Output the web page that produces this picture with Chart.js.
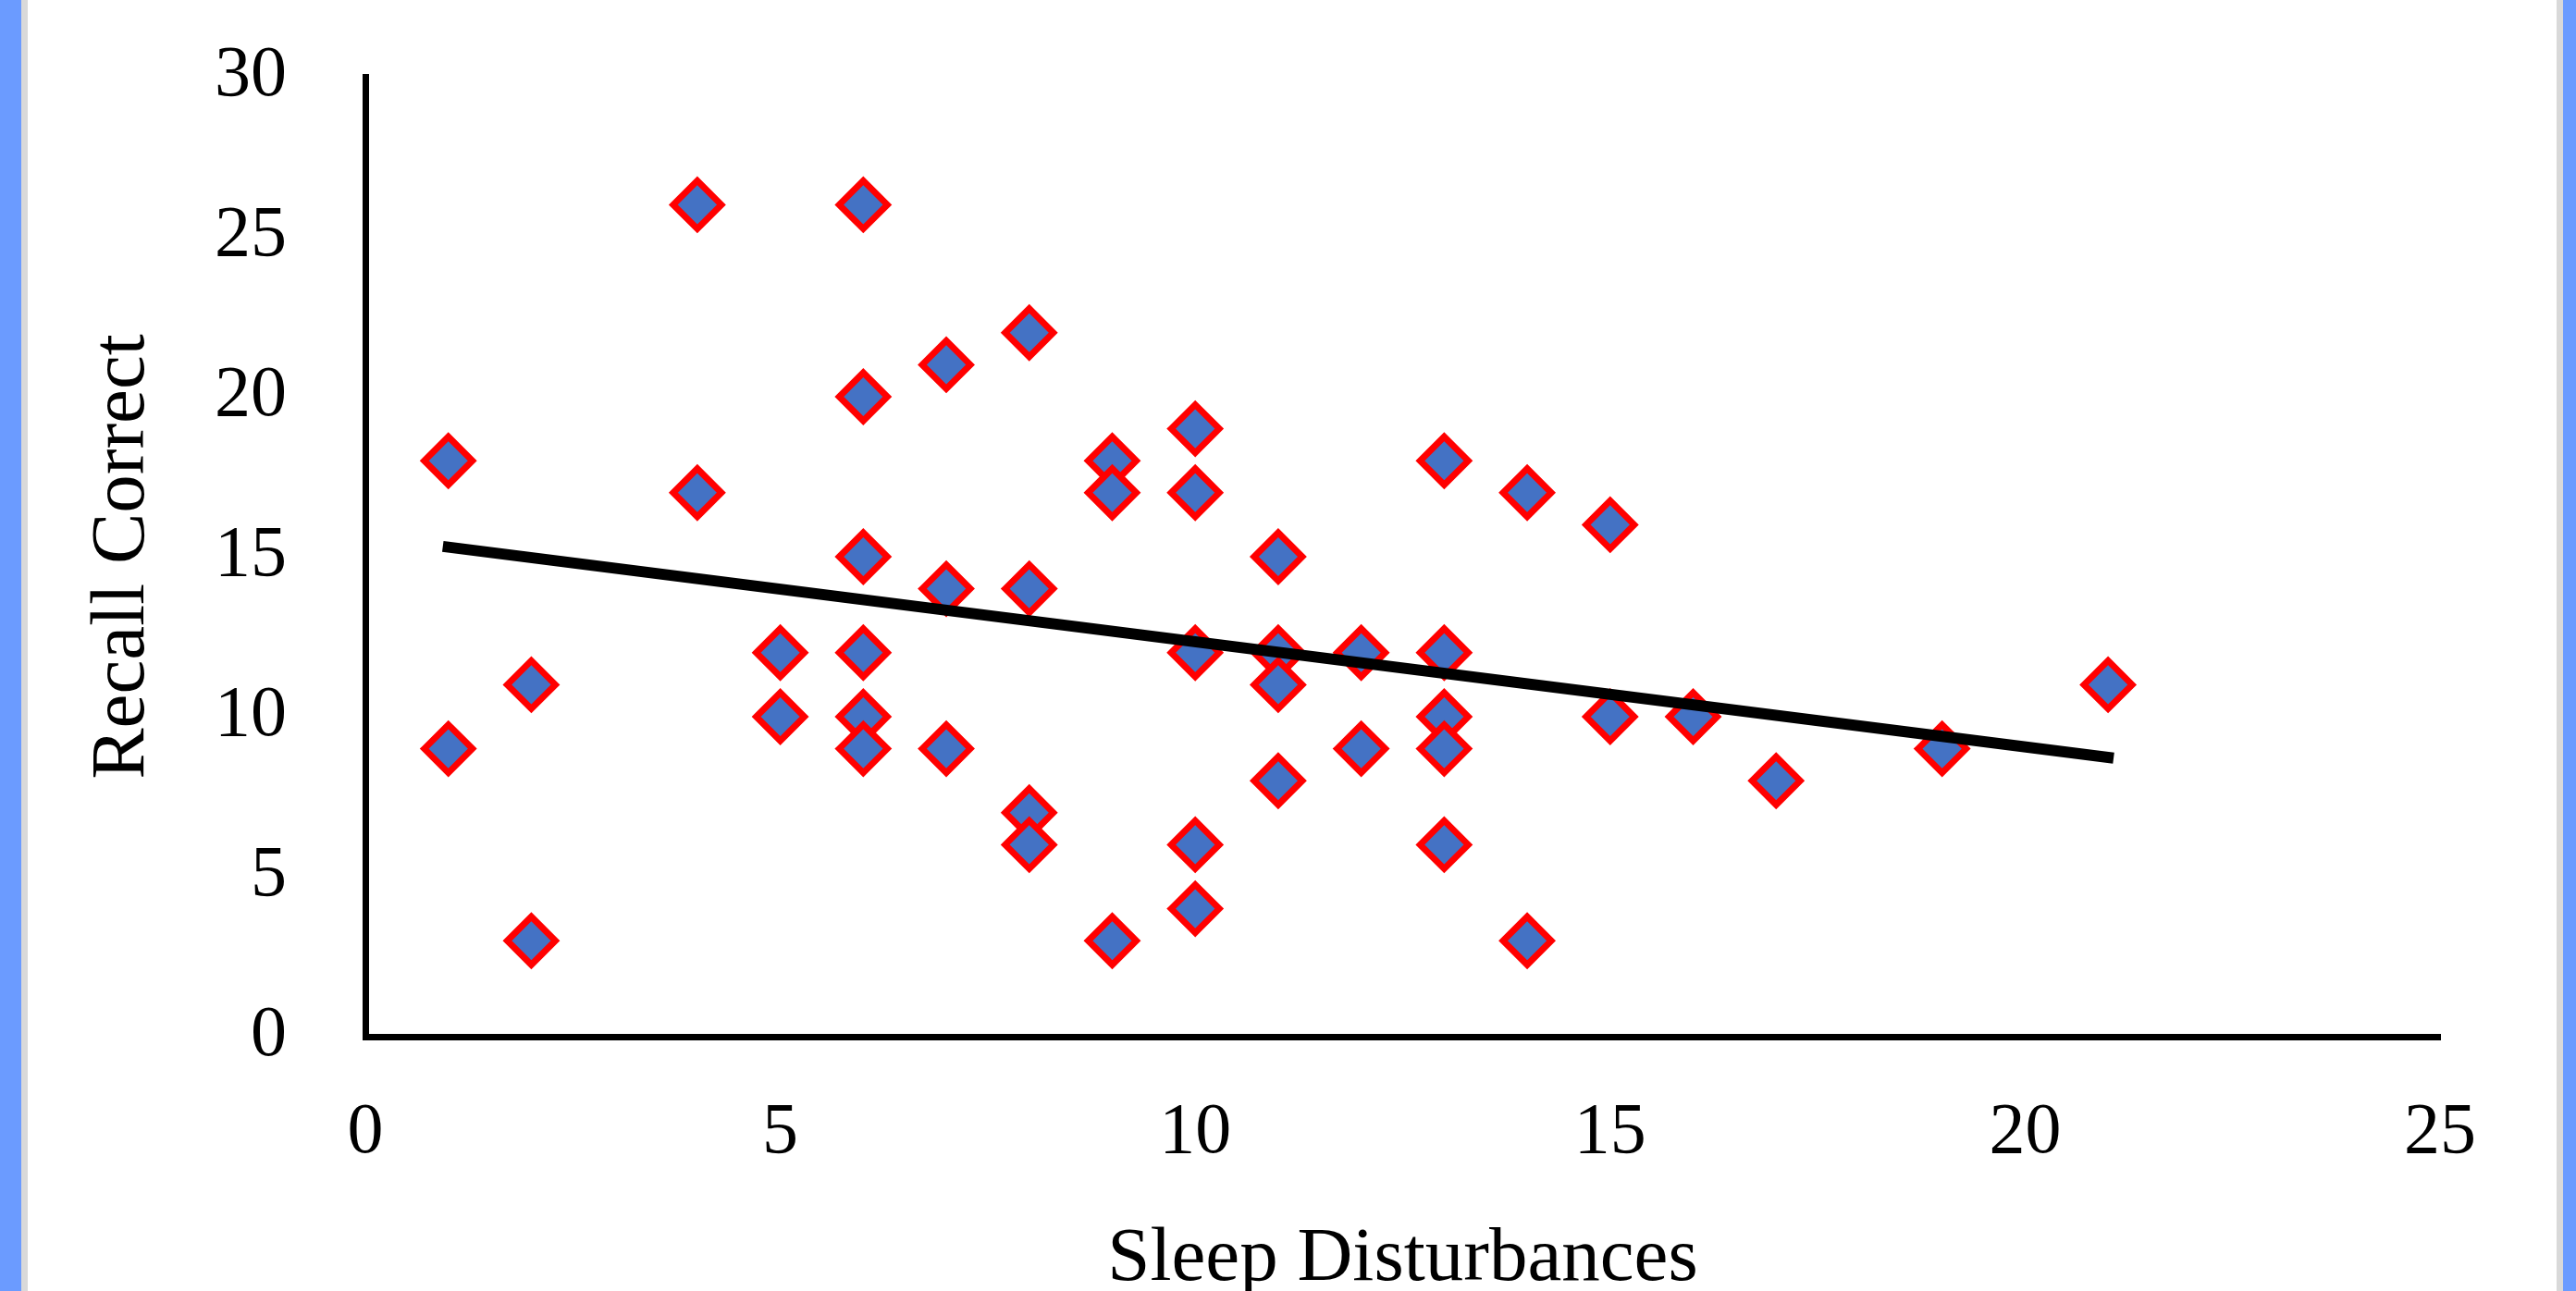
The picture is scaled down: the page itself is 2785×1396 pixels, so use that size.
<!DOCTYPE html>
<html>
<head>
<meta charset="utf-8">
<script src="https://cdn.jsdelivr.net/npm/chart.js@4.4.0/dist/chart.umd.min.js"></script>
<style>
  html, body { margin: 0; padding: 0; background: #fff; width: 2785px; height: 1396px; overflow: hidden; }
  .strip-l { position: absolute; left: 0; top: 0; width: 23px; height: 1396px; background: #6b9bff; }
  .edge-l { position: absolute; left: 23px; top: 0; width: 7px; height: 1396px; background: #d9d9d9; }
  .edge-r { position: absolute; left: 2764px; top: 0; width: 7px; height: 1396px; background: #d9d9d9; }
  .strip-r { position: absolute; left: 2771px; top: 0; width: 14px; height: 1396px; background: #6b9bff; }
  #wrap { position: absolute; left: 30px; top: 0; width: 2734px; height: 1396px; }
</style>
</head>
<body>
<div class="strip-l"></div><div class="edge-l"></div>
<div class="edge-r"></div><div class="strip-r"></div>
<div id="wrap"><canvas id="chart"></canvas></div>
<script>
// sleep disturbances (x) vs recall correct (y)
const sleepX = [1, 1, 2, 2, 4, 4, 5, 5, 6, 6, 6, 6, 6, 6, 7, 7, 7, 8, 8, 8, 8, 9, 9, 9,
                10, 10, 10, 10, 10, 11, 11, 11, 11, 12, 12, 13, 13, 13, 13, 13, 14, 14, 15, 15, 16, 17, 19, 21];
const recallY = [18, 9, 11, 3, 26, 17, 12, 10, 26, 20, 15, 12, 10, 9, 21, 14, 9, 22, 14, 7, 6, 18, 17, 3,
                 19, 17, 12, 6, 4, 15, 12, 11, 8, 12, 9, 18, 12, 10, 9, 6, 17, 3, 16, 10, 10, 8, 9, 11];

// trendline end points
const trendX = [1, 21];
const trendY = [15.3, 8.73];

const xTicks = [0, 5, 10, 15, 20, 25];
const yTicks = [0, 5, 10, 15, 20, 25, 30];

const points = sleepX.map((x, i) => ({ x: x, y: recallY[i] }));
const trend = trendX.map((x, i) => ({ x: x, y: trendY[i] }));

const serif = 'Liberation Serif';

// keep the plot box fixed, tick labels may hang over the edges
function noEdgePad(s) {
    s.paddingTop = 0; s.paddingBottom = 0;
    s.paddingLeft = 0; s.paddingRight = 0;
}

new Chart(document.getElementById('chart').getContext('2d'), {
    type: 'scatter',
    data: {
        datasets: [
            {
                label: 'Trend',
                data: trend,
                showLine: true,
                borderColor: '#000000',
                borderWidth: 12,
                borderCapStyle: 'square',
                pointRadius: 0,
                order: 0
            },
            {
                label: 'Recall',
                data: points,
                pointStyle: 'rectRot',
                pointRadius: 26,
                pointHoverRadius: 26,
                backgroundColor: '#4472c4',
                borderColor: '#ff0000',
                borderWidth: 7,
                order: 1
            }
        ]
    },
    options: {
        responsive: true,
        maintainAspectRatio: false,
        devicePixelRatio: 1,
        animation: false,
        layout: { padding: { top: 83, right: 126, bottom: 0, left: 0 } },
        plugins: { legend: { display: false }, tooltip: { enabled: false } },
        scales: {
            x: {
                type: 'linear',
                min: xTicks[0],
                max: xTicks[xTicks.length - 1],
                afterBuildTicks: s => { s.ticks = xTicks.map(v => ({ value: v })); },
                afterFit: s => { s.height = 275; noEdgePad(s); },
                grid: { display: false },
                border: { display: true, color: '#000', width: 7 },
                ticks: { color: '#000', padding: 50, font: { family: serif, size: 78 } },
                title: {
                    display: true,
                    text: 'Sleep Disturbances',
                    color: '#000',
                    padding: { top: 0, bottom: -8 },
                    font: { family: serif, size: 83, lineHeight: 1 }
                }
            },
            y: {
                type: 'linear',
                min: yTicks[0],
                max: yTicks[yTicks.length - 1],
                afterBuildTicks: s => { s.ticks = yTicks.map(v => ({ value: v })); },
                afterFit: s => { s.width = 365; noEdgePad(s); },
                grid: { display: false },
                border: { display: true, color: '#000', width: 7 },
                ticks: { color: '#000', padding: 77, font: { family: serif, size: 78 } },
                title: {
                    display: true,
                    text: 'Recall Correct',
                    color: '#000',
                    padding: { top: 62, bottom: 0 },
                    font: { family: serif, size: 83, lineHeight: 1 }
                }
            }
        }
    }
});
</script>
</body>
</html>
